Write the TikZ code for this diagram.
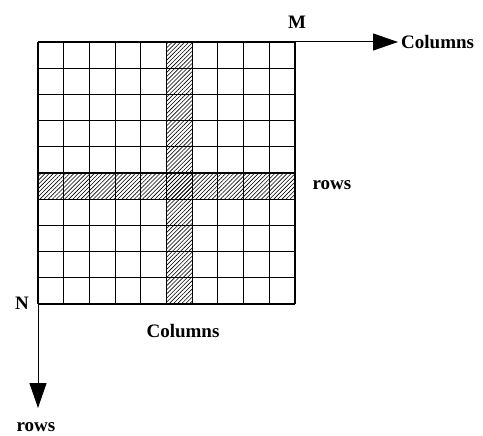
\documentclass[tikz,border=0pt]{standalone}
\usepackage{fontspec}
\setmainfont{Liberation Serif}
\usetikzlibrary{arrows.meta,patterns.meta}

\begin{document}
\begin{tikzpicture}[x=1pt,y=-1pt,
    lbl/.style={font=\bfseries\fontsize{19}{22}\selectfont, inner sep=0pt},
    hatch/.style={pattern={Lines[angle=45,distance=2.9pt,line width=0.6pt]}},
    gridline/.style={line width=1.1pt},
    axis/.style={line width=1pt,-{Triangle[length=25pt,width=17pt]}}]
\useasboundingbox (0,0) rectangle (483,436);

% hatched column and row
\fill[hatch] (166.5,42) rectangle (192.2,304);
\fill[hatch] (38,173) rectangle (295,199.2);

% 10 x 10 grid
\foreach \i in {0,...,10} {
  \draw[gridline] ({38+25.7*\i},42) -- ({38+25.7*\i},304);
  \draw[gridline] (38,{42+26.2*\i}) -- (295,{42+26.2*\i});
}

\coordinate (topright) at (295,42);
\coordinate (bottomleft) at (38,304);
\coordinate (colend) at (398,42);
\coordinate (rowend) at (38,408);

% axes
\draw[axis] (topright) -- (colend);
\draw[axis] (bottomleft) -- (rowend);

% labels
\node[lbl] (M) at (297,22) {M};
\node[lbl] (N) at (22,303) {N};
\node[lbl, anchor=west] (colaxis) at (401,42) {Columns};
\node[lbl] (rowaxis) at (36,427) {rows};
\node[lbl] (rowlbl) at (332,185) {rows};
\node[lbl] (collbl) at (183,331) {Columns};
\end{tikzpicture}
\end{document}
